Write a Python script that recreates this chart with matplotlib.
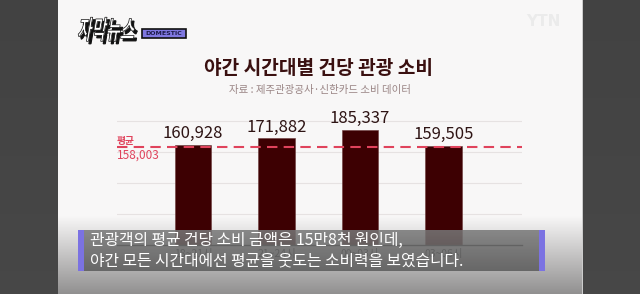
import numpy as np
import matplotlib
matplotlib.use('Agg')
import matplotlib.pyplot as plt
from matplotlib.patches import Rectangle, PathPatch
from matplotlib.textpath import TextPath
from matplotlib.font_manager import FontProperties
from matplotlib.transforms import Affine2D

plt.rcParams['font.family'] = ['Noto Sans CJK KR', 'DejaVu Sans']

# data
periods = ['18~21시', '21~24시', '00~03시', '03~06시']
spend = [160928, 171882, 185337, 159505]
average = 158003

title = '야간 시간대별 건당 관광 소비'
source = '자료 : 제주관광공사·신한카드 소비 데이터'
caption = ['관광객의 평균 건당 소비 금액은 15만8천 원인데,',
           '야간 모든 시간대에선 평균을 웃도는 소비력을 보였습니다.']

W, H = 640, 294
fig = plt.figure(figsize=(W / 100, H / 100), dpi=100)

# background: dark side panels, white middle fading to gray at the bottom
bg = np.zeros((H, W, 3))
rows = np.arange(H)
mid = np.ones(H) * 0.972
fade = rows > 215
mid[fade] = 0.972 - (rows[fade] - 215) / (H - 215) * 0.41
bg[:, :, :] = mid[:, None, None]
bg[:, :, 0] += 0.004
side = 0.26 + 0.02 * rows / H
bg[:, :58, :] = side[:, None, None]
bg[:, 583:, :] = side[:, None, None]
bg[:, 582, :] = 0.8
axbg = fig.add_axes([0, 0, 1, 1], zorder=0)
axbg.imshow(bg.clip(0, 1), extent=[0, W, 0, H], aspect='auto', origin='upper')
axbg.set_xlim(0, W)
axbg.set_ylim(0, H)
axbg.axis('off')

# logo
fp = FontProperties(family='Noto Sans CJK KR', weight='bold')
tp = TextPath((0, 0), '자막뉴스', size=1, prop=fp)
tr = Affine2D().scale(15.5, 26).skew_deg(10, 0).translate(77, 255)
logo = tr.transform_path(tp)
axbg.add_patch(PathPatch(logo, fc='#111111', ec='#111111', lw=0.8,
                         transform=Affine2D().translate(2.5, -2.5) + axbg.transData))
axbg.add_patch(PathPatch(logo, fc='white', ec='#111111', lw=0.5,
                         transform=axbg.transData))
axbg.add_patch(Rectangle((142, 256), 44, 9, fc='#7f78e0', ec='#111111', lw=1.2))
axbg.text(164, 260.5, 'DOMESTIC', fontsize=4.5, weight='bold', color='#1c1a48',
          ha='center', va='center', family='DejaVu Sans')
axbg.text(543, 272, 'YTN', fontsize=11, weight='bold', color='#ebebeb',
          ha='center', va='center', family='DejaVu Sans')

# titles
fig.text(319 / W, 1 - 68 / H, title, fontsize=13.8, weight='heavy', color='#3a1010',
         ha='center', va='center')
fig.text(320 / W, 1 - 90 / H, source, fontsize=7.5, color='#9a8585',
         ha='center', va='center')

# chart
ax = fig.add_axes([117 / W, (H - 245) / H, (522 - 117) / W, (245 - 110) / H], zorder=1)
ax.patch.set_alpha(0)
x = np.arange(len(spend))
ax.bar(x, spend, width=0.44, color='#3d0002', edgecolor='#6a3a3a', linewidth=0.4, zorder=2)
for xi, v in zip(x, spend):
    ax.annotate(f'{v:,}', (xi, v), xytext=(0, 2), textcoords='offset points',
                ha='center', va='bottom', fontsize=12, color='#2e1414')
ax.axhline(average, color='#e0435c', lw=1.5, ls=(0, (5, 3)), zorder=3)
ax.text(0.0, average + 9000, '평균', transform=ax.get_yaxis_transform(),
        fontsize=7, color='#e0435c', ha='left', va='center', weight='bold')
ax.text(0.0, average - 13000, f'{average:,}', transform=ax.get_yaxis_transform(),
        fontsize=8.5, color='#e0435c', ha='left', va='center')
ax.set_xlim(-0.91, 3.94)
ax.set_ylim(0, 217700)
ax.set_yticks([50000, 100000, 150000, 200000])
ax.grid(axis='y', color='#e6e2e2', lw=0.8, zorder=0)
ax.set_xticks(x)
ax.set_xticklabels(periods, fontsize=7.5, color='#333333')
ax.tick_params(axis='x', length=0, pad=3)
ax.tick_params(axis='y', length=0, labelleft=False)
for s in ['top', 'right', 'left']:
    ax.spines[s].set_visible(False)
ax.spines['bottom'].set_color('#222222')
ax.spines['bottom'].set_linewidth(1)

# caption box over the chart
axc = fig.add_axes([78 / W, (H - 271) / H, (545 - 78) / W, 41 / H], zorder=5)
grad = np.linspace(0.47, 0.36, 41)[:, None, None] * np.ones((41, 10, 3))
axc.imshow(grad, extent=[0, 467, 0, 41], aspect='auto', alpha=0.86)
axc.add_patch(Rectangle((0, 0), 6, 41, fc='#7b72e2', ec='none'))
axc.add_patch(Rectangle((461, 0), 6, 41, fc='#7b72e2', ec='none'))
axc.set_xlim(0, 467)
axc.set_ylim(0, 41)
axc.axis('off')
axc.text(12, 30.5, caption[0], fontsize=11.4, color='white', va='center', ha='left')
axc.text(12, 10.5, caption[1], fontsize=11.4, color='white', va='center', ha='left')

fig.savefig('out.png', dpi=100)
